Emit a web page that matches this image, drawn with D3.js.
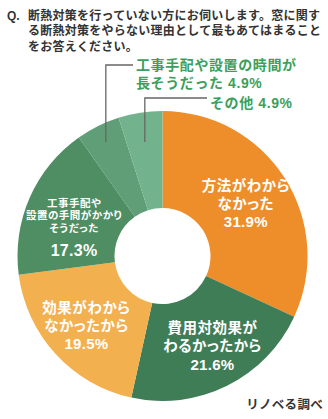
<!DOCTYPE html>
<html><head><meta charset="utf-8">
<script src="https://cdn.jsdelivr.net/npm/d3@7"></script>
<style>
html,body{margin:0;padding:0;background:#fff;}
svg{display:block;}
text{font-family:"Liberation Sans","Noto Sans CJK JP",sans-serif;}
</style></head>
<body>
<svg id="chart" width="328" height="419"></svg>
<script>
const titleLines = ["断熱対策を行っていない方にお伺いします。窓に関す","る断熱対策をやらない理由として最もあてはまること","をお答えください。"];
const categories = ["方法がわからなかった","費用対効果がわるかったから","効果がわからなかったから","工事手配や設置の手間がかかりそうだった","工事手配や設置の時間が長そうだった","その他"];
const values = [31.9, 21.6, 19.5, 17.3, 4.9, 4.9];
const colors = ["#ee8e2b","#3f7d57","#f3b04f","#4f8d63","#5f9e76","#72b38d"];
const labelLines = [["方法がわから","なかった"],["費用対効果が","わるかったから"],["効果がわから","なかったから"],["工事手配や","設置の手間がかかり","そうだった"],["工事手配や設置の時間が","長そうだった"],["その他"]];
const source = "リノベる調べ";

const svg = d3.select("#chart");
const cx = 162.5, cy = 256, rOuter = 145, rInner = 48;

// Title
const t = svg.append("text").attr("fill","#333").attr("font-weight",700).attr("font-size",12);
t.append("tspan").attr("x",7).attr("y",19.5).text("Q.");
titleLines.forEach((l,i)=>t.append("tspan").attr("x",28).attr("y",19.5+i*15.5).attr("letter-spacing",0.25).text(l));

const pie = d3.pie().sort(null).value(d=>d);
const arcs = pie(values);
const arc = d3.arc().innerRadius(rInner).outerRadius(rOuter);
const g = svg.append("g").attr("transform",`translate(${cx},${cy})`);
g.selectAll("path").data(arcs).join("path").attr("d",arc).attr("fill",(d,i)=>colors[i]);

// inside labels
const fmt = v => v.toFixed(1)+"%";
const inside = [
  {i:0, dx:2, dy:-18, size:14.5, lh:18, pctSize:15, pctGap:18},
  {i:1, dx:7, dy:-14, size:14.5, lh:18, pctSize:15, pctGap:18},
  {i:2, dx:-5, dy:-13, size:14.5, lh:18, pctSize:15, pctGap:18},
  {i:3, dx:0, dy:-14, size:10.5, lh:12.5, pctSize:16, pctGap:22}
];
inside.forEach(o=>{
  const c = arc.centroid(arcs[o.i]);
  const x = c[0]+o.dx, y0 = c[1]+o.dy;
  const lines = labelLines[o.i];
  const tx = g.append("text").attr("fill","#fff").attr("font-weight",700).attr("text-anchor","middle")
    .style("font-feature-settings","'palt'");
  lines.forEach((l,k)=>tx.append("tspan").attr("x",x).attr("y",y0+k*o.lh+o.size*0.35)
    .attr("font-size",o.size).attr("letter-spacing",0.5).text(l));
  tx.append("tspan").attr("x",x).attr("y",y0+(lines.length-1)*o.lh+o.pctGap+o.pctSize*0.35)
    .attr("font-size",o.pctSize).attr("font-weight",700).attr("letter-spacing",0.3).text(fmt(values[o.i]));
});

// outside labels with leader lines
const outside = [
  {i:4, lineY:65, endY:142, textX:136, textY:[65,83]},
  {i:5, lineY:98, endY:142, textX:210, textY:[103]}
];
outside.forEach(o=>{
  const a = arcs[o.i];
  const mid = (a.startAngle+a.endAngle)/2;
  const r = (cy-o.endY)/Math.cos(mid);
  const px = cx + r*Math.sin(mid), py = cy - r*Math.cos(mid);
  svg.append("path").attr("d",`M${px},${py}V${o.lineY}H${o.textX-3}`)
    .attr("fill","none").attr("stroke","#666").attr("stroke-width",1.3);
  const lines = labelLines[o.i].slice();
  lines[lines.length-1] += " " + fmt(values[o.i]);
  const tx = svg.append("text").attr("fill","#3d9f5c").attr("font-weight",700).attr("font-size",14).attr("letter-spacing",0.6);
  lines.forEach((l,k)=>tx.append("tspan").attr("x",o.textX).attr("y",o.textY[k]+14*0.35).text(l));
});

svg.append("text").attr("x",323).attr("y",405).attr("dy","0.35em").attr("text-anchor","end")
  .attr("fill","#333").attr("font-weight",700).attr("font-size",12.5).attr("letter-spacing",0.3).text(source);
</script>
</body></html>
